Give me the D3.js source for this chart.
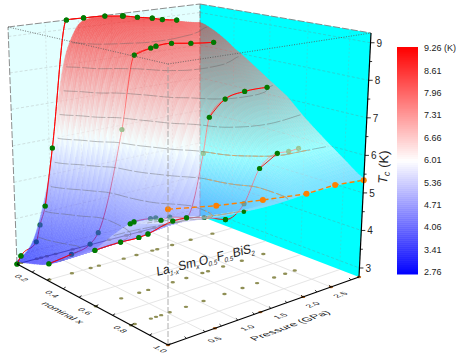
<!DOCTYPE html>
<html>
<head>
<meta charset="utf-8">
<script src="https://cdn.jsdelivr.net/npm/d3@7"></script>
<style>
  body { margin: 0; background: #fff; }
  text { font-family: "Liberation Sans", Arial, sans-serif; fill: #222; }
</style>
</head>
<body>
<svg id="chart" width="463" height="357"></svg>
<script>
// series: pressure (GPa) and Tc (K) for each nominal x
const p02 = [0, 0.06, 0.28, 0.34, 0.42, 0.55, 0.82, 1.08, 1.40, 1.67, 1.68, 1.90, 2.15, 2.33, 2.56];
const t02 = [2.76, 2.95, 3.23, 3.67, 4.16, 5.73, 9.26, 9.26, 9.24, 9.18, 9.18, 9.09, 9.01, 8.93, 8.86];
const p04 = [0.03, 0.345, 0.62, 0.75, 1.14, 1.34, 1.59, 1.67, 1.91, 2.24, 2.6];
const t04 = [3.18, 3.27, 3.41, 3.66, 6.34, 8.35, 8.48, 8.51, 8.53, 8.45, 8.38];
const p07 = [0, 0.35, 0.61, 0.75, 1.13, 1.34, 1.59, 1.68, 1.92, 2.25, 2.6];
const t07 = [4.16, 4.19, 4.18, 4.21, 4.37, 4.36, 5.97, 6.91, 7.32, 7.43, 7.43];
const p09 = [0, 0.05, 0.27, 0.34, 0.41, 0.53, 0.78, 1.05, 1.37, 1.65, 1.88, 2.17, 2.37, 2.53];
const t09 = [5.2, 5.22, 5.2, 5.18, 5.09, 5.11, 4.99, 4.87, 4.67, 4.95, 5.77, 6.06, 6.04, 6.06];
const p11 = [0, 0.65, 1.34, 2.0, 2.5, 2.85];
const t11 = [5.9, 5.69, 5.53, 5.39, 5.42, 5.34];
// one more point of x = 0.9 that sits right under the curve
const pExtra = [1.65];
const tExtra = [4.74];

// points that lie behind the surface (index into the series above)
const behind02 = [2, 3];
const behind04 = [1, 2, 3, 4];
const behind07 = [6];
const behind09 = [2, 3, 5, 6, 7, 9, 12, 13];

// surface, Tc on a grid of nominal x (rows) and pressure (columns)
const gridX = [0.2, 0.3, 0.4, 0.55, 0.7, 0.8, 0.9, 1.0, 1.1];
const gridP = [0, 0.25, 0.5, 0.75, 1, 1.25, 1.5, 1.75, 2, 2.25, 2.5, 2.85];
const gridT = [
  [2.76, 3.2, 5.1, 8.6, 9.26, 9.26, 9.22, 9.15, 9.05, 8.96, 8.88, 8.7],
  [2.95, 3.22, 3.7, 5.2, 8.6, 9.1, 9.05, 9.0, 8.92, 8.82, 8.75, 8.45],
  [3.15, 3.24, 3.35, 3.66, 5.2, 7.6, 8.45, 8.52, 8.52, 8.45, 8.4, 8.1],
  [3.65, 3.72, 3.8, 3.95, 4.6, 5.6, 7.6, 7.95, 7.98, 7.95, 7.9, 7.55],
  [4.16, 4.18, 4.18, 4.21, 4.3, 4.37, 5.1, 7.05, 7.36, 7.43, 7.43, 7.0],
  [4.7, 4.7, 4.65, 4.6, 4.6, 4.55, 4.9, 6.1, 6.6, 6.72, 6.72, 6.55],
  [5.22, 5.2, 5.1, 5.0, 4.9, 4.75, 4.8, 5.25, 5.9, 6.05, 6.06, 6.14],
  [5.4, 5.35, 5.3, 5.2, 5.15, 5.08, 5.1, 5.3, 5.65, 5.7, 5.7, 5.74],
  [5.6, 5.52, 5.48, 5.44, 5.41, 5.39, 5.38, 5.37, 5.36, 5.35, 5.35, 5.34]
];

// axes
const xLabels = [0.2, 0.4, 0.6, 0.8, 1.0];
const xMinor = [0.3, 0.5, 0.7, 0.9, 1.1];
const pLabels = [0.5, 1.0, 1.5, 2.0, 2.5];
const tLabels = [3, 4, 5, 6, 7, 8, 9];
const colorLabels = [2.76, 3.41, 4.06, 4.71, 5.36, 6.01, 6.66, 7.31, 7.96, 8.61, 9.26];

const tMin = 2.76, tMax = 9.26;

// the box as it sits in the picture
const box = {
  A: [17, 264], B: [168, 345], C: [359, 277], D: [200, 216],
  A2: [8, 27], B2: [168, 64], C2: [371, 33], D2: [200, 4]
};

// perspective makes the axes a bit uneven, so piecewise scales
const uScale = d3.scaleLinear().domain([0.2, 0.4, 0.6, 0.8, 1.0, 1.1]).range([0, 0.2, 0.411, 0.633, 0.878, 1]);
const vScale = d3.scaleLinear().domain([0, 0.5, 1, 1.5, 2, 2.5, 2.85]).range([0, 0.194, 0.366, 0.539, 0.707, 0.853, 1]);
const tScale = d3.scaleLinear().domain([tMin, tMax]).range([0, 1]);
const color = d3.scaleLinear().domain([tMin, 6.01, tMax]).range(['#0000ff', '#ffffff', '#ff0000']).clamp(true);

function project(x, p, t) {
  const u = uScale(x), v = vScale(p), w = tScale(t);
  const pick = (i) => {
    const low = (1 - u) * (1 - v) * box.A[i] + u * (1 - v) * box.B[i] + u * v * box.C[i] + (1 - u) * v * box.D[i];
    const top = (1 - u) * (1 - v) * box.A2[i] + u * (1 - v) * box.B2[i] + u * v * box.C2[i] + (1 - u) * v * box.D2[i];
    return low + (top - low) * w;
  };
  return [pick(0), pick(1)];
}

const svg = d3.select('#chart');
const poly = (pts) => 'M' + pts.map(p => p.map(n => n.toFixed(2)).join(',')).join('L') + 'Z';
const seg = (a, b) => `M${a[0]},${a[1]}L${b[0]},${b[1]}`;

// ---- walls and floor
svg.append('path').attr('d', poly([box.A, box.A2, box.D2, box.D])).attr('fill', '#e3ffff');
svg.append('path').attr('d', poly([box.D, box.D2, box.C2, box.C])).attr('fill', '#00ffff');

const grid = svg.append('g').attr('fill', 'none');
for (let t of tLabels) {
  grid.append('path').attr('d', seg(project(0.2, 0, t), project(0.2, 2.85, t)))
    .attr('stroke', '#c4d2d2').attr('stroke-width', 0.7).attr('stroke-dasharray', '3 2');
  grid.append('path').attr('d', seg(project(0.2, 2.85, t), project(1.1, 2.85, t)))
    .attr('stroke', '#35c4c4').attr('stroke-width', 0.7).attr('stroke-dasharray', '3 2');
}
for (let p of pLabels) {
  grid.append('path').attr('d', seg(project(0.2, p, tMin), project(0.2, p, tMax)))
    .attr('stroke', '#cfdcdc').attr('stroke-width', 0.7).attr('stroke-dasharray', '2 2');
  grid.append('path').attr('d', seg(project(0.2, p, tMin), project(1.1, p, tMin)))
    .attr('stroke', '#dedede').attr('stroke-width', 0.8);
}
for (let x of xLabels) {
  grid.append('path').attr('d', seg(project(x, 2.85, tMin), project(x, 2.85, tMax)))
    .attr('stroke', '#35dada').attr('stroke-width', 0.7).attr('stroke-dasharray', '2 2');
  grid.append('path').attr('d', seg(project(x, 0, tMin), project(x, 2.85, tMin)))
    .attr('stroke', '#dedede').attr('stroke-width', 0.8);
}

// wall edges behind everything
const edges = svg.append('g').attr('fill', 'none').attr('stroke', '#808080').attr('stroke-width', 0.9).attr('stroke-dasharray', '7 2');
edges.append('path').attr('d', seg(box.A, box.A2));
edges.append('path').attr('d', seg(box.A2, box.D2));
edges.append('path').attr('d', seg(box.D2, box.C2));
edges.append('path').attr('d', seg(box.D, box.D2));
svg.append('path').attr('d', seg(box.A, box.D)).attr('stroke', '#555').attr('stroke-width', 0.8);

// ---- drop points on the floor
const series = [
  { x: 0.2, p: p02, t: t02, behind: behind02, lineFront: [] },
  { x: 0.4, p: p04, t: t04, behind: behind04, lineFront: [1] },
  { x: 0.7, p: p07, t: t07, behind: behind07, lineFront: [] },
  { x: 0.9, p: p09, t: t09, behind: behind09, lineFront: [] }
];

const drops = svg.append('g');
series.forEach(s => {
  s.p.forEach(p => {
    const c = project(s.x, p, tMin);
    drops.append('ellipse').attr('cx', c[0]).attr('cy', c[1]).attr('rx', 2.2).attr('ry', 1.2).attr('fill', '#8f8f55');
  });
});
p11.forEach(p => {
  const c = project(1.1, p, tMin);
  drops.append('ellipse').attr('cx', c[0]).attr('cy', c[1]).attr('rx', 2.2).attr('ry', 1.2).attr('fill', '#b5651d');
});

// ---- curves and dots, first pass goes under the surface
const lineGen = d3.line().curve(d3.curveMonotoneX);
const under = svg.append('g');
series.forEach(s => {
  const pts = s.p.map((p, i) => project(s.x, p, s.t[i]));
  under.append('path').attr('d', lineGen(pts)).attr('fill', 'none').attr('stroke', '#ff0000').attr('stroke-width', 0.9);
  pts.forEach(c => {
    under.append('circle').attr('cx', c[0]).attr('cy', c[1]).attr('r', 2.6).attr('fill', '#007a00');
  });
});

// ---- surface: fine grid from the table, smoothed a little
const subP = 12, subX = 6;
const cols = gridP.length, rows = gridX.length;
const w = (cols - 1) * subP + 1, h = (rows - 1) * subX + 1;
const colP = d3.scaleLinear().domain(d3.range(cols)).range(gridP);
const rowX = d3.scaleLinear().domain(d3.range(rows)).range(gridX);
const values = new Float64Array(w * h);
for (let j = 0; j < h; j++) {
  for (let i = 0; i < w; i++) {
    const r = Math.min(Math.floor(j / subX), rows - 2), c = Math.min(Math.floor(i / subP), cols - 2);
    const fr = j / subX - r, fc = i / subP - c;
    values[j * w + i] = (1 - fr) * ((1 - fc) * gridT[r][c] + fc * gridT[r][c + 1])
      + fr * ((1 - fc) * gridT[r + 1][c] + fc * gridT[r + 1][c + 1]);
  }
}
d3.blur2({ data: values, width: w, height: h }, 2.5, 1);

const node = (j, i) => project(rowX(j / subX), colP(i / subP), values[j * w + i]);
const surface = svg.append('g').attr('opacity', 0.64);
for (let j = 0; j < h - 1; j++) {
  for (let i = w - 2; i >= 0; i--) {
    const avg = (values[j * w + i] + values[j * w + i + 1] + values[(j + 1) * w + i] + values[(j + 1) * w + i + 1]) / 4;
    const fill = color(avg);
    surface.append('path')
      .attr('d', poly([node(j, i), node(j, i + 1), node(j + 1, i + 1), node(j + 1, i)]))
      .attr('fill', fill).attr('stroke', fill).attr('stroke-width', 0.5);
  }
}

// ---- contours at the colour bar levels
const levels = colorLabels.slice(1, -1);
const contours = d3.contours().size([w, h]).thresholds(levels)(Array.from(values));
const contourG = svg.append('g').attr('fill', 'none').attr('stroke', '#5f5f5f').attr('stroke-opacity', 0.45)
  .attr('stroke-width', 0.9).attr('stroke-dasharray', '14 2');
// over the cyan corner the same lines come out tan
svg.append('clipPath').attr('id', 'corner').append('rect').attr('x', 205).attr('y', 150).attr('width', 170).attr('height', 70);
const contourTan = svg.append('g').attr('clip-path', 'url(#corner)').attr('fill', 'none').attr('stroke', '#d9a76a')
  .attr('stroke-width', 0.9).attr('stroke-dasharray', '5 2');
contours.forEach(cont => {
  const contourLine = d3.line()
    .defined(d => d[0] > 0.7 && d[0] < w - 0.7 && d[1] > 0.7 && d[1] < h - 0.7)
    .x(d => project(rowX((d[1] - 0.5) / subX), colP((d[0] - 0.5) / subP), cont.value)[0])
    .y(d => project(rowX((d[1] - 0.5) / subX), colP((d[0] - 0.5) / subP), cont.value)[1]);
  cont.coordinates.forEach(polygon => {
    polygon.forEach(ring => {
      contourG.append('path').attr('d', contourLine(ring));
      contourTan.append('path').attr('d', contourLine(ring));
    });
  });
});

// ---- second pass, whatever is in front of the surface
const over = svg.append('g');
series.forEach(s => {
  let run = [];
  const flush = () => {
    if (run.length > 1) {
      over.append('path').attr('d', lineGen(run)).attr('fill', 'none').attr('stroke', '#ff0000').attr('stroke-width', 0.9);
    }
    run = [];
  };
  s.p.forEach((p, i) => {
    if (s.behind.includes(i) && !s.lineFront.includes(i)) { flush(); return; }
    run.push(project(s.x, p, s.t[i]));
  });
  flush();
  s.p.forEach((p, i) => {
    if (s.behind.includes(i)) return;
    const c = project(s.x, p, s.t[i]);
    over.append('circle').attr('cx', c[0]).attr('cy', c[1]).attr('r', 2.6).attr('fill', '#007a00');
  });
});
pExtra.forEach((p, i) => {
  const c = project(0.9, p, tExtra[i]);
  over.append('circle').attr('cx', c[0]).attr('cy', c[1]).attr('r', 2.3).attr('fill', '#007a00');
});

// orange series at the end of the x axis
const orangePts = p11.map((p, i) => project(1.1, p, t11[i]));
over.append('path').attr('d', d3.line()(orangePts)).attr('fill', 'none').attr('stroke', '#ff8000')
  .attr('stroke-width', 1.4).attr('stroke-dasharray', '5 3');
orangePts.forEach(c => {
  over.append('circle').attr('cx', c[0]).attr('cy', c[1]).attr('r', 3).attr('fill', '#ff8000');
});

// ---- front of the box
svg.append('path').attr('d', seg(box.B, box.B2)).attr('stroke', '#999').attr('stroke-width', 0.8).attr('stroke-dasharray', '6 2').attr('fill', 'none');
const dotted = svg.append('g').attr('fill', 'none').attr('stroke', '#555').attr('stroke-width', 0.8).attr('stroke-dasharray', '1 1.5');
dotted.append('path').attr('d', seg(box.A2, box.B2));
dotted.append('path').attr('d', seg(box.B2, box.C2));

const axes = svg.append('g').attr('fill', 'none').attr('stroke', '#000');
axes.append('path').attr('d', seg(box.A, box.B)).attr('stroke-width', 1.2);
axes.append('path').attr('d', seg(box.B, box.C)).attr('stroke-width', 1.2);
axes.append('path').attr('d', seg(box.C, box.C2)).attr('stroke-width', 1.2);

// ticks
xLabels.concat(xMinor).forEach(x => {
  const c = project(x, 0, tMin);
  axes.append('path').attr('d', seg(c, [c[0] + 2.5, c[1] - 1.6])).attr('stroke-width', 0.8);
});
d3.range(0.25, 2.85, 0.25).forEach(p => {
  const c = project(1.1, p, tMin);
  axes.append('path').attr('d', seg(c, [c[0] - 2, c[1] - 1.8])).attr('stroke-width', 0.8);
});
d3.range(3, 9.1, 0.5).forEach(t => {
  const c = project(1.1, 2.85, t);
  const major = Number.isInteger(t);
  axes.append('path').attr('d', seg(c, [c[0] + (major ? 4 : 2.5), c[1]])).attr('stroke-width', 0.8);
});

// ---- labels lying in the floor plane
const planeText = (str, px, py, size, a, b, c, d) => svg.append('text')
  .attr('transform', `matrix(${a} ${b} ${c} ${d} ${px} ${py})`)
  .attr('text-anchor', 'middle').attr('font-size', size).text(str);

xLabels.forEach(x => {
  const c = project(x, 0, tMin);
  const u = uScale(x);
  planeText(x.toFixed(1), c[0] + 2 + 8 * u * u, c[1] + 15, 8.5, 0.9, 0.48, -0.85, 0.35);
});
pLabels.forEach(p => {
  const c = project(1.1, p, tMin);
  planeText(p.toFixed(1), c[0] + 12, c[1] + 9, 8.5, 0.94, -0.34, 0.85, 0.42);
});
planeText('nominal x', 60, 314, 10, 0.9, 0.48, -0.85, 0.35);
planeText('Pressure (GPa)', 293, 327, 10, 1.1, -0.4, 0.85, 0.45);

tLabels.forEach(t => {
  const c = project(1.1, 2.85, t);
  svg.append('text').attr('x', c[0] + 6).attr('y', c[1] + 4).attr('font-size', 10).text(t);
});

// Tc (K) along the vertical axis
const tcTitle = svg.append('text').attr('transform', 'translate(387,184) rotate(-87)').attr('font-size', 13);
tcTitle.append('tspan').attr('font-style', 'italic').text('T');
tcTitle.append('tspan').attr('font-style', 'italic').attr('font-size', 9).attr('dy', 2).text('c');
tcTitle.append('tspan').attr('dy', -2).text(' (K)');

// sample name on the floor
const name = svg.append('text').attr('transform', 'matrix(0.9 -0.22 0.1 0.99 157 276)').attr('font-size', 13);
[['La', 0], ['1-x', 1], ['Sm', 0], ['x', 1], ['O', 0], ['0.5', 1], ['F', 0], ['0.5', 1], ['BiS', 0], ['2', 1]].forEach((d, i, all) => {
  const prev = i > 0 ? all[i - 1][1] : 0;
  name.append('tspan')
    .attr('font-size', d[1] ? 7 : 13)
    .attr('font-style', d[1] && d[0] !== '2' ? 'italic' : 'normal')
    .attr('dy', d[1] === prev ? 0 : (d[1] ? 3 : -3))
    .text(d[0]);
});

// ---- colour bar
const barY = d3.scaleLinear().domain([tMin, tMax]).range([274, 47]);
const bar = svg.append('g');
d3.range(0, 114).forEach(i => {
  const t0 = tMin + (tMax - tMin) * i / 114, t1 = tMin + (tMax - tMin) * (i + 1) / 114;
  bar.append('rect').attr('x', 397).attr('width', 21).attr('y', barY(t1)).attr('height', barY(t0) - barY(t1) + 0.5)
    .attr('fill', color((t0 + t1) / 2));
});
const labelY = d3.scaleLinear().domain([tMin, tMax]).range([272, 48]);
colorLabels.forEach(v => {
  svg.append('text').attr('x', 424).attr('y', labelY(v) + 3.2).attr('font-size', 9)
    .text(v === tMax ? v.toFixed(2) + ' (K)' : v.toFixed(2));
});
</script>
</body>
</html>
